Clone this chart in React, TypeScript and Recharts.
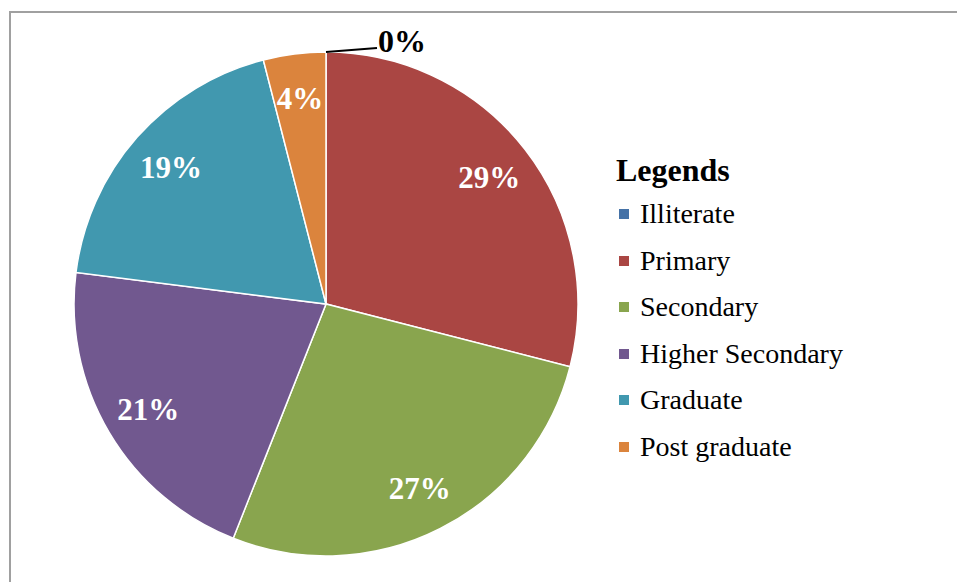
import React from 'react';
import { PieChart, Pie, Cell, Legend } from 'recharts';

const categories = ['Illiterate', 'Primary', 'Secondary', 'Higher Secondary', 'Graduate', 'Post graduate'];
const shares = [0, 29, 27, 21, 19, 4];
const colors = ['#4572A7', '#AA4643', '#89A54E', '#71588F', '#4198AF', '#DB843D'];

const data = categories.map((name, i) => ({ name, value: shares[i] }));

const FONT = '"Liberation Serif", "Times New Roman", serif';
const RAD = Math.PI / 180;

const renderLabel = (props: any) => {
  const { cx, cy, midAngle, outerRadius, value, index } = props;
  const cos = Math.cos(-midAngle * RAD);
  const sin = Math.sin(-midAngle * RAD);
  if (value === 0) {
    // tiny slice: leader line out to the right and a dark label
    const sx = cx + outerRadius * cos;
    const sy = cy + outerRadius * sin;
    return (
      <g key={`lbl-${index}`}>
        <path d={`M${sx},${sy} L${sx + 51},${sy - 4}`} stroke="#000" strokeWidth={2} fill="none" />
        <text x={sx + 52} y={sy - 11} fill="#000" fontFamily={FONT} fontWeight="bold" fontSize={32}
          textAnchor="start" dominantBaseline="central">
          {value}%
        </text>
      </g>
    );
  }
  const r = outerRadius * 0.82;
  return (
    <text key={`lbl-${index}`} x={cx + r * cos} y={cy + r * sin} fill="#fff" fontFamily={FONT}
      fontWeight="bold" fontSize={31} textAnchor="middle" dominantBaseline="central">
      {value}%
    </text>
  );
};

const LegendBox = () => (
  <div style={{ fontFamily: FONT, color: '#000' }}>
    <div style={{ fontSize: 32, fontWeight: 'bold', lineHeight: '40.7px', height: 40.7 }}>Legends</div>
    {categories.map((name, i) => (
      <div key={name} style={{ display: 'flex', alignItems: 'center', height: 46.6, fontSize: 28 }}>
        <span style={{ width: 10, height: 10, background: colors[i], marginLeft: 3, marginRight: 11 }} />
        <span>{name}</span>
      </div>
    ))}
  </div>
);

export default function App() {
  return (
    <div style={{ position: 'absolute', left: 0, top: 0, width: 957, height: 582, background: '#fff' }}>
      <div style={{
        position: 'absolute', left: 9, top: 11, width: 960, height: 580,
        borderLeft: '2px solid #a0a0a0', borderTop: '2px solid #a0a0a0',
      }} />
      <PieChart width={957} height={582} style={{ position: 'absolute', left: 0, top: 0 }}>
        <Pie
          data={data}
          dataKey="value"
          nameKey="name"
          cx={321}
          cy={299}
          outerRadius={252}
          startAngle={90}
          endAngle={-270}
          stroke="#fff"
          strokeWidth={1.5}
          label={renderLabel}
          labelLine={false}
          isAnimationActive={false}
        >
          {data.map((d, i) => (
            <Cell key={d.name} fill={colors[i]} />
          ))}
        </Pie>
        <Legend
          content={<LegendBox />}
          wrapperStyle={{ position: 'absolute', left: 616, top: 150, width: 330, bottom: 'auto' }}
        />
      </PieChart>
    </div>
  );
}
